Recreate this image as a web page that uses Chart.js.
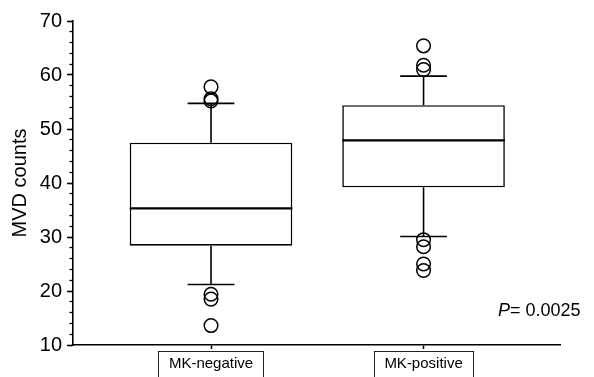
<!DOCTYPE html>
<html>
<head>
    <title>MVD counts box plot</title>
    <script src="https://cdn.jsdelivr.net/npm/chart.js"></script>
    <style>
        body { margin: 0; background: #fff; }
        #wrap { width: 594px; height: 377px; }
    </style>
</head>
<body>
    <div id="wrap"><canvas id="chart"></canvas></div>

    <script>
        // data
        const categories = ['MK-negative', 'MK-positive'];
        const positions = [1, 2];
        const q1 = [28.4, 39.2];
        const median = [35.3, 47.9];
        const q3 = [47.45, 54.4];
        const whiskerLow = [21.2, 30.1];
        const whiskerHigh = [54.75, 59.8];
        const outliers = [
            [57.8, 55.6, 55.2, 19.4, 18.5, 13.6],
            [65.4, 61.8, 61.0, 29.5, 28.2, 25.0, 23.8]
        ];
        const pText = '= 0.0025';

        const FONT = "'Liberation Sans', Arial, Helvetica, sans-serif";
        const boxFrac = 0.765;   // box width as share of category spacing
        const capHalf = 0.11;    // whisker cap half width (x units)

        const boxData = positions.map((x, i) => ({ x: x, y: [q1[i], q3[i]] }));

        const medianData = [];
        positions.forEach((x, i) => {
            medianData.push({ x: x - boxFrac / 2, y: median[i] });
            medianData.push({ x: x + boxFrac / 2, y: median[i] });
            medianData.push({ x: x, y: null });
        });

        const whiskerData = [];
        positions.forEach((x, i) => {
            whiskerData.push({ x: x, y: q3[i] }, { x: x, y: whiskerHigh[i] },
                { x: x - capHalf, y: whiskerHigh[i] }, { x: x + capHalf, y: whiskerHigh[i] },
                { x: x, y: null });
            whiskerData.push({ x: x, y: q1[i] }, { x: x, y: whiskerLow[i] },
                { x: x - capHalf, y: whiskerLow[i] }, { x: x + capHalf, y: whiskerLow[i] },
                { x: x, y: null });
        });

        const outlierData = [];
        positions.forEach((x, i) => {
            outliers[i].forEach(v => outlierData.push({ x: x, y: v }));
        });

        // boxes round the category labels + P value note
        const extras = {
            id: 'extras',
            afterDraw(chart) {
                const ctx = chart.ctx;
                const xs = chart.scales.x;
                ctx.save();
                ctx.font = '15px ' + FONT;
                ctx.strokeStyle = '#222';
                ctx.lineWidth = 1;
                xs.ticks.forEach((t, i) => {
                    const px = xs.getPixelForValue(t.value);
                    const w = ctx.measureText(categories[i]).width;
                    ctx.strokeRect(Math.round(px - w / 2 - 10.5) + 0.5, Math.round(xs.top + 5.7) + 0.5, Math.round(w + 21), 40);
                });
                ctx.fillStyle = '#000';
                ctx.textBaseline = 'alphabetic';
                ctx.font = 'italic 18px ' + FONT;
                ctx.fillText('P', 498, 316);
                const pw = ctx.measureText('P').width;
                ctx.font = '18px ' + FONT;
                ctx.fillText(pText, 498 + pw, 316);
                ctx.restore();
            }
        };

        const ctx = document.getElementById('chart').getContext('2d');
        new Chart(ctx, {
            type: 'bar',
            data: {
                datasets: [
                    {
                        type: 'scatter',
                        data: outlierData,
                        pointStyle: 'circle',
                        pointRadius: 6.8,
                        pointBorderWidth: 1.5,
                        pointBorderColor: '#000',
                        pointBackgroundColor: 'rgba(0,0,0,0)',
                        xAxisID: 'x', yAxisID: 'y',
                        order: 0
                    },
                    {
                        type: 'line',
                        data: medianData,
                        borderColor: '#000',
                        borderWidth: 2.4,
                        pointRadius: 0,
                        spanGaps: false,
                        xAxisID: 'x', yAxisID: 'y',
                        order: 1
                    },
                    {
                        type: 'line',
                        data: whiskerData,
                        borderColor: '#000',
                        borderWidth: 1.6,
                        pointRadius: 0,
                        spanGaps: false,
                        xAxisID: 'x', yAxisID: 'y',
                        order: 2
                    },
                    {
                        type: 'bar',
                        data: boxData,
                        backgroundColor: '#fff',
                        borderColor: '#000',
                        borderWidth: 1.6,
                        borderSkipped: false,
                        categoryPercentage: 1,
                        barPercentage: boxFrac,
                        xAxisID: 'x', yAxisID: 'y',
                        order: 3
                    }
                ]
            },
            options: {
                responsive: true,
                maintainAspectRatio: false,
                animation: false,
                layout: { padding: { top: 21, right: 34, left: 0, bottom: 0 } },
                plugins: {
                    legend: { display: false },
                    tooltip: { enabled: false }
                },
                scales: {
                    y: {
                        type: 'linear',
                        position: 'left',
                        weight: 1,
                        min: 10,
                        max: 70,
                        ticks: {
                            stepSize: 10,
                            color: '#000',
                            padding: 5,
                            font: { family: FONT, size: 20 }
                        },
                        grid: {
                            drawOnChartArea: false,
                            tickLength: 6,
                            tickColor: '#000',
                            tickWidth: 1.5
                        },
                        border: { color: '#000', width: 1.6 },
                        title: {
                            display: true,
                            text: 'MVD counts',
                            color: '#000',
                            padding: { top: 8, bottom: 0 },
                            font: { family: FONT, size: 20 }
                        },
                        afterFit: (s) => { s.width = 73; }
                    },
                    y2: {
                        type: 'linear',
                        position: 'left',
                        weight: 0,
                        min: 10,
                        max: 70,
                        ticks: { stepSize: 2, display: false },
                        grid: {
                            drawOnChartArea: false,
                            tickLength: 3.5,
                            tickColor: '#000',
                            tickWidth: 1.3
                        },
                        border: { display: false },
                        afterFit: (s) => { s.width = 0; }
                    },
                    x: {
                        type: 'linear',
                        position: 'bottom',
                        offset: false,
                        min: 0.3506,
                        max: 2.642,
                        afterBuildTicks: (axis) => {
                            axis.ticks = positions.map(v => ({ value: v }));
                        },
                        ticks: {
                            color: '#000',
                            padding: 6,
                            autoSkip: false,
                            maxRotation: 0,
                            font: { family: FONT, size: 15 },
                            callback: (value) => categories[positions.indexOf(value)]
                        },
                        grid: {
                            offset: false,
                            drawOnChartArea: false,
                            tickLength: 4,
                            tickColor: '#000',
                            tickWidth: 1.5
                        },
                        border: { color: '#000', width: 1.6 },
                        afterFit: (s) => { s.height = 32; }
                    }
                }
            },
            plugins: [extras]
        });
    </script>
</body>
</html>
